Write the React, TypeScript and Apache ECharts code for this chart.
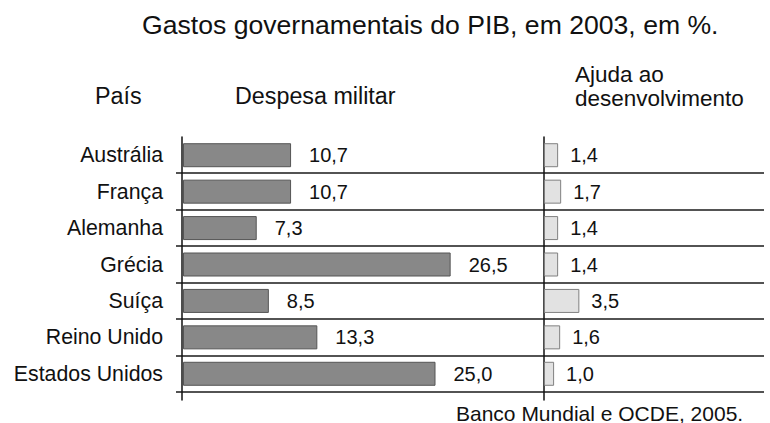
import React, { useEffect, useRef } from 'react';
import * as echarts from 'echarts';

const countries = ['Austrália', 'França', 'Alemanha', 'Grécia', 'Suíça', 'Reino Unido', 'Estados Unidos'];
const militaryExpense = [10.7, 10.7, 7.3, 26.5, 8.5, 13.3, 25.0];
const developmentAid = [1.4, 1.7, 1.4, 1.4, 3.5, 1.6, 1.0];

const titleText = 'Gastos governamentais do PIB, em 2003, em %.';
const headerCountry = 'País';
const headerMilitary = 'Despesa militar';
const headerAid = 'Ajuda ao\ndesenvolvimento';
const sourceText = 'Banco Mundial e OCDE, 2005.';

const FONT = "'Liberation Sans', Arial, Helvetica, sans-serif";
const fmt = (v: number) => v.toFixed(1).replace('.', ',');

export default function App() {
  const ref = useRef<HTMLDivElement>(null);

  useEffect(() => {
    if (!ref.current) return;
    const chart = echarts.init(ref.current, null, { renderer: 'svg' });
    const hiddenAxis = {
      axisLine: { show: false },
      axisTick: { show: false },
      axisLabel: { show: false },
      splitLine: { show: false },
    };
    const vLine = {
      gridIndex: 3,
      type: 'value',
      min: 0,
      max: 1,
      axisLine: { show: true, onZero: false, lineStyle: { color: '#111', width: 1.5 } },
      axisTick: { show: false },
      axisLabel: { show: false },
      splitLine: { show: false },
    };
    const option: any = {
      animation: false,
      textStyle: { fontFamily: FONT },
      grid: [
        { left: 183, top: 137, width: 303, height: 255 },
        { left: 544, top: 137, width: 202, height: 255 },
        { left: 176, right: 6, top: 173, height: 219 },
        { left: 182, width: 362, top: 137, height: 263 },
      ],
      xAxis: [
        { gridIndex: 0, type: 'value', min: 0, max: 30, show: false },
        { gridIndex: 1, type: 'value', min: 0, max: 20, show: false },
        { gridIndex: 2, type: 'value', min: 0, max: 1, show: false },
        { gridIndex: 3, type: 'value', min: 0, max: 1, show: false },
      ],
      yAxis: [
        {
          gridIndex: 0,
          type: 'category',
          data: countries,
          inverse: true,
          axisLine: { show: false },
          axisTick: { show: false },
          splitLine: { show: false },
          axisLabel: { margin: 20, fontSize: 21.3, color: '#111', fontFamily: FONT },
        },
        { gridIndex: 1, type: 'category', data: countries, inverse: true, ...hiddenAxis },
        {
          gridIndex: 2,
          type: 'value',
          min: 1,
          max: 7,
          interval: 1,
          inverse: true,
          axisLine: { show: false },
          axisTick: { show: false },
          axisLabel: { show: false },
          splitLine: { show: true, lineStyle: { color: '#1a1a1a', width: 1.5 } },
        },
        { ...vLine, position: 'left' },
        { ...vLine, position: 'right' },
      ],
      series: [
        {
          type: 'bar',
          xAxisIndex: 0,
          yAxisIndex: 0,
          data: militaryExpense,
          barWidth: 24,
          itemStyle: { color: '#888888', borderColor: '#555555', borderWidth: 1 },
          label: {
            show: true,
            position: 'right',
            distance: 18,
            formatter: (p: any) => fmt(p.value),
            fontSize: 20,
            color: '#111',
            fontFamily: FONT,
          },
        },
        {
          type: 'bar',
          xAxisIndex: 1,
          yAxisIndex: 1,
          data: developmentAid,
          barWidth: 24,
          itemStyle: { color: '#e2e2e2', borderColor: '#808080', borderWidth: 1 },
          label: {
            show: true,
            position: 'right',
            distance: 12,
            formatter: (p: any) => fmt(p.value),
            fontSize: 20,
            color: '#111',
            fontFamily: FONT,
          },
        },
      ],
      graphic: [
        {
          type: 'text',
          x: 142,
          y: 25,
          style: { text: titleText, fontSize: 26.6, fontFamily: FONT, fill: '#111', align: 'left', verticalAlign: 'middle' },
        },
        {
          type: 'text',
          x: 95,
          y: 96,
          style: { text: headerCountry, fontSize: 23.3, fontFamily: FONT, fill: '#111', align: 'left', verticalAlign: 'middle' },
        },
        {
          type: 'text',
          x: 235,
          y: 96,
          style: { text: headerMilitary, fontSize: 23.3, fontFamily: FONT, fill: '#111', align: 'left', verticalAlign: 'middle' },
        },
        {
          type: 'text',
          x: 575,
          y: 86,
          style: { text: headerAid, fontSize: 22.5, lineHeight: 24, fontFamily: FONT, fill: '#111', align: 'left', verticalAlign: 'middle' },
        },
        {
          type: 'text',
          x: 456,
          y: 413,
          style: { text: sourceText, fontSize: 21, fontFamily: FONT, fill: '#111', align: 'left', verticalAlign: 'middle' },
        },
      ],
    };
    chart.setOption(option);
    return () => chart.dispose();
  }, []);

  return (
    <div
      ref={ref}
      style={{ position: 'fixed', left: 0, top: 0, width: 770, height: 423, background: '#fff' }}
    />
  );
}
